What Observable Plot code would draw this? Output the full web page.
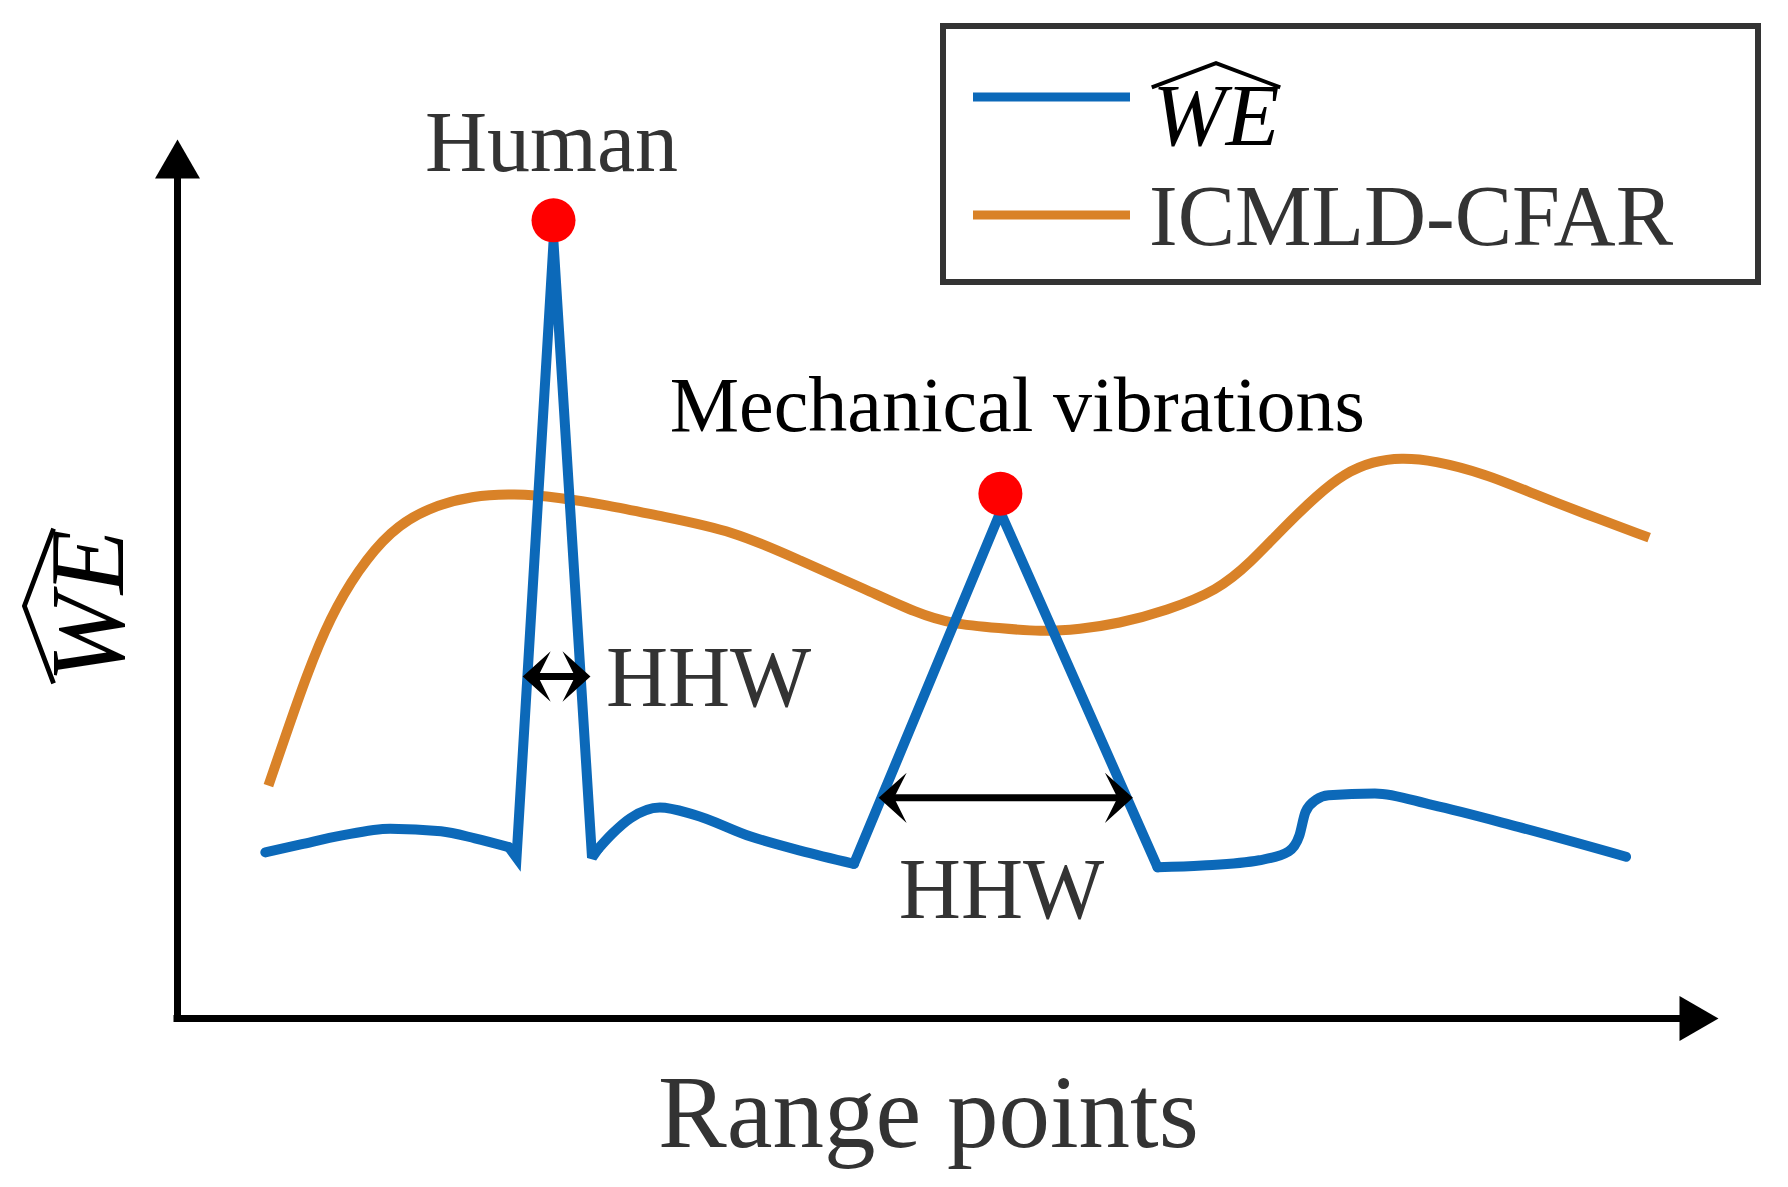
<!DOCTYPE html>
<html>
<head>
<meta charset="utf-8">
<script src="https://cdn.jsdelivr.net/npm/d3@7"></script>
<script src="https://cdn.jsdelivr.net/npm/@observablehq/plot@0.6"></script>
<style>
  html, body { margin: 0; padding: 0; background: #fff; }
  #chart { width: 1788px; height: 1187px; overflow: hidden; }
</style>
</head>
<body>
<div id="chart"></div>
<script>
// ---- Data (x: range points, 0–100 arbitrary units; y: value, 0–100 arbitrary units) ----
const weX = [5.7, 8.0, 10.6, 13.8, 17.1, 19.3, 21.5, 22.0, 24.4, 26.9, 27.3, 28.2, 29.4, 31.3, 33.5, 37.2, 40.4, 43.9, 53.4, 63.6, 66.5, 70.2, 72.1, 72.8, 73.2, 73.9, 74.7, 77.7, 81.4, 87.0, 94.0];
const weY = [18.9, 19.8, 20.8, 21.6, 21.3, 20.5, 19.5, 18.3, 88.3, 18.3, 19.3, 21.0, 22.8, 24.0, 23.2, 20.7, 19.1, 17.6, 57.6, 17.2, 17.4, 18.0, 19.0, 20.8, 23.5, 24.9, 25.4, 25.6, 24.3, 21.8, 18.4];
// index ranges of the WE curve: smooth stretches vs straight peak flanks
const weSmooth = [[0, 6], [10, 17], [19, 30]];
const weStraight = [[6, 10], [17, 19]];

const cfarX = [5.9, 6.9, 8.4, 9.9, 11.7, 13.8, 16.2, 19.2, 21.8, 24.7, 27.9, 31.2, 36.1, 40.4, 44.8, 48.0, 50.2, 53.4, 56.0, 58.6, 61.0, 64.2, 67.5, 69.6, 71.8, 74.0, 75.7, 77.6, 79.4, 81.5, 84.8, 88.0, 91.2, 95.5];
const cfarY = [26.5, 31.6, 39.2, 45.6, 51.0, 55.5, 58.1, 59.5, 59.7, 59.3, 58.4, 57.2, 55.5, 52.1, 48.7, 46.1, 44.9, 44.4, 44.0, 44.3, 44.9, 46.4, 48.7, 51.8, 55.9, 59.6, 62.0, 63.4, 63.8, 63.5, 62.0, 59.7, 57.5, 54.7];

// detected targets (red markers)
const targetNames = ["Human", "Mechanical vibrations"];
const targetX = [24.4, 53.4];
const targetY = [90.8, 59.7];
const targetLabelX = [24.27, 54.5];
const targetLabelY = [96.4, 66.8];
const targetLabelSize = [86, 78];
const targetLabelColor = ["#333333", "#000000"];

// half-height widths (HHW)
const hhwStart = [22.4, 45.5];
const hhwEnd = [26.8, 62.0];
const hhwLevel = [38.9, 25.1];
const hhwLabelX = [27.8, 53.47];
const hhwLabelY = [35.6, 11.4];
const hhwLabelAnchor = ["start", "middle"];

const xLabel = "Range points";
const legendLabels = ["WE", "ICMLD-CFAR"];
const colors = { we: "#0c69b9", cfar: "#d98228" };

// ---- Build tables ----
const blue = weX.map((x, i) => ({ x, y: weY[i] }));
const piece = (ranges) => ranges.flatMap(([a, b], k) => blue.slice(a, b + 1).map(d => ({ ...d, seg: k })));
const blueSmooth = piece(weSmooth);
const blueStraight = piece(weStraight);
const orange = cfarX.map((x, i) => ({ x, y: cfarY[i] }));
const targets = targetNames.map((name, i) => ({
  name, x: targetX[i], y: targetY[i], lx: targetLabelX[i], ly: targetLabelY[i],
  size: targetLabelSize[i], color: targetLabelColor[i]
}));
const hhw = hhwStart.map((s, i) => ({ x1: s, x2: hhwEnd[i], y: hhwLevel[i], lx: hhwLabelX[i], ly: hhwLabelY[i], anchor: hhwLabelAnchor[i] }));
const hhwTips = hhw.flatMap(d => [{ x: d.x1, y: d.y, rot: 0 }, { x: d.x2, y: d.y, rot: 180 }]);

// barbed ("stealth") arrowhead symbol, tip at the origin, pointing left
const stealth = {
  draw(context, size) {
    const s = Math.sqrt(size / Math.PI);
    context.moveTo(0, 0);
    context.lineTo(s, -0.9 * s);
    context.lineTo(0.55 * s, 0);
    context.lineTo(s, 0.9 * s);
    context.closePath();
  }
};

const serif = "'Liberation Serif', 'Times New Roman', Times, serif";
const lineW = 10;

const plot = Plot.plot({
  width: 1788,
  height: 1187,
  marginLeft: 177,
  marginRight: 70,
  marginTop: 139,
  marginBottom: 169,
  x: { domain: [0, 100], axis: null },
  y: { domain: [0, 100], axis: null },
  style: { background: "#fff", fontFamily: serif, overflow: "visible" },
  marks: [
    // axes with arrowheads
    Plot.ruleX([0], { y1: 0, y2: 96, stroke: "#000", strokeWidth: 7, strokeLinecap: "square" }),
    Plot.ruleY([0], { x1: 0, x2: 98, stroke: "#000", strokeWidth: 7, strokeLinecap: "square" }),
    Plot.dot([{ x: 0, y: 100 }], { x: "x", y: "y", symbol: "triangle", r: 16.7, fill: "#000", stroke: "none", dy: 26 }),
    Plot.dot([{ x: 100, y: 0 }], { x: "x", y: "y", symbol: "triangle", r: 16.7, fill: "#000", stroke: "none", rotate: 90, dx: -26 }),
    // series
    Plot.line(orange, { x: "x", y: "y", stroke: colors.cfar, strokeWidth: lineW, curve: "basis", strokeLinecap: "butt" }),
    Plot.line(blueSmooth, { x: "x", y: "y", z: "seg", stroke: colors.we, strokeWidth: lineW, curve: "monotone-x", strokeLinecap: "round" }),
    Plot.line(blueStraight, { x: "x", y: "y", z: "seg", stroke: colors.we, strokeWidth: lineW, curve: "linear", strokeLinecap: "round", strokeLinejoin: "miter", strokeMiterlimit: 3 }),
    // target markers
    Plot.dot(targets, { x: "x", y: "y", r: 22, fill: "#ff0000", stroke: "none" }),
    // HHW double arrows: shaft + barbed heads
    Plot.arrow(hhw, { x1: "x1", x2: "x2", y1: "y", y2: "y", stroke: "#000", strokeWidth: 7, headLength: 0, insetStart: 9, insetEnd: 9 }),
    Plot.dot(hhwTips, { x: "x", y: "y", symbol: stealth, r: 28, rotate: "rot", fill: "#000", stroke: "none" }),
    // labels
    Plot.text(targets, { x: "lx", y: "ly", text: "name", fontSize: (d) => d.size, fill: "color", textAnchor: "middle", lineAnchor: "bottom", fontFamily: serif }),
    Plot.text(hhw.filter(d => d.anchor === "start"), { x: "lx", y: "ly", text: () => "HHW", fontSize: 86, fill: "#333", textAnchor: "start", lineAnchor: "bottom", fontFamily: serif }),
    Plot.text(hhw.filter(d => d.anchor === "middle"), { x: "lx", y: "ly", text: () => "HHW", fontSize: 86, fill: "#333", textAnchor: "middle", lineAnchor: "bottom", fontFamily: serif }),
    Plot.text([{ x: 48.73, y: -14.6 }], { x: "x", y: "y", text: () => xLabel, fontSize: 103, fill: "#333", textAnchor: "middle", lineAnchor: "bottom", fontFamily: serif })
  ]
});

document.getElementById("chart").appendChild(plot);

// ---- WE with a wide hat ----
function drawWE(g, F) {
  g.append("text")
    .attr("x", 0).attr("y", 0)
    .attr("text-anchor", "middle")
    .attr("font-family", serif)
    .attr("font-style", "italic")
    .attr("font-size", F)
    .attr("fill", "#000")
    .text(legendLabels[0]);
  g.append("path")
    .attr("d", `M${-0.73 * F},${-0.655 * F} L0,${-0.93 * F} L${0.73 * F},${-0.655 * F}`)
    .attr("fill", "none")
    .attr("stroke", "#000")
    .attr("stroke-width", 0.045 * F)
    .attr("stroke-linejoin", "miter");
}

const svg = d3.select(plot);

// y-axis label (rotated)
drawWE(svg.append("g").attr("transform", "translate(123,606) rotate(-90)"), 106);

// legend box
const leg = svg.append("g").attr("class", "legend");
leg.append("rect")
  .attr("x", 943).attr("y", 26).attr("width", 815).attr("height", 256)
  .attr("fill", "#fff").attr("stroke", "#333").attr("stroke-width", 6);
leg.append("line").attr("x1", 973).attr("x2", 1130).attr("y1", 97).attr("y2", 97)
  .attr("stroke", colors.we).attr("stroke-width", 9);
leg.append("line").attr("x1", 973).attr("x2", 1130).attr("y1", 215).attr("y2", 215)
  .attr("stroke", colors.cfar).attr("stroke-width", 9);
drawWE(leg.append("g").attr("transform", "translate(1216,145)"), 88);
leg.append("text")
  .attr("x", 1149).attr("y", 245)
  .attr("text-anchor", "start")
  .attr("font-family", serif).attr("font-size", 86).attr("fill", "#333")
  .text(legendLabels[1]);
</script>
</body>
</html>
